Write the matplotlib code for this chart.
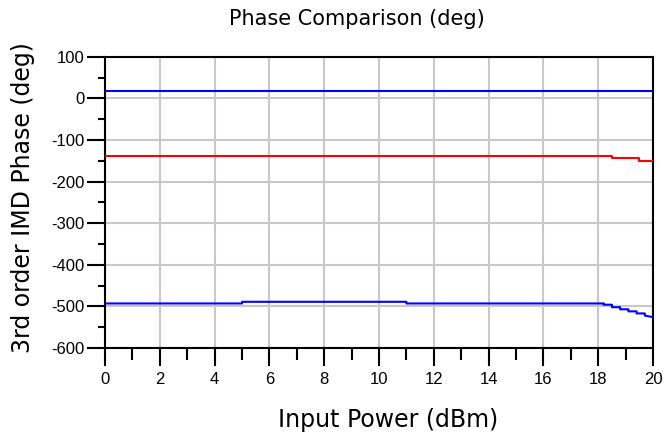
import matplotlib
matplotlib.use("Agg")
import matplotlib.pyplot as plt
from matplotlib.ticker import MultipleLocator

plt.rcParams['font.family'] = ['Liberation Sans', 'DejaVu Sans']
plt.rcParams['axes.unicode_minus'] = False

# Data (step-like traces)
power_top = [0, 20]
phase_top = [17, 17]

power_red = [0, 18.5, 18.5, 19.5, 19.5, 20]
phase_red = [-138, -138, -144, -144, -150, -150]

power_low = [0, 5, 5, 11, 11, 18.2, 18.2, 18.5, 18.5, 18.8, 18.8, 19.1, 19.1,
             19.4, 19.4, 19.7, 19.7, 20]
phase_low = [-493, -493, -489, -489, -493, -493, -496, -496, -502, -502, -507,
             -507, -512, -512, -517, -517, -522, -526]

xticks = list(range(0, 21, 2))
yticks = list(range(-600, 101, 100))

fig = plt.figure(figsize=(6.65, 4.41), dpi=100)
ax = fig.add_axes([0.158, 0.211, 0.824, 0.660])

ax.plot(power_top, phase_top, color='#0000ff', lw=1.5, zorder=3)
ax.plot(power_red, phase_red, color='#ff0000', lw=1.5, zorder=3)
ax.plot(power_low, phase_low, color='#0000ff', lw=1.5, zorder=3)

ax.set_xlim(0, 20)
ax.set_ylim(-600, 100)
ax.set_xticks(xticks)
ax.set_yticks(yticks)
ax.xaxis.set_minor_locator(MultipleLocator(1))
ax.yaxis.set_minor_locator(MultipleLocator(50))
ax.grid(True, which='major', color='#c8c8c8', lw=1.5, zorder=0)
ax.set_axisbelow(True)

ax.tick_params(axis='both', which='major', direction='out', length=13,
               width=1.5, color='black', labelsize=12)
ax.tick_params(axis='x', which='minor', direction='out', length=8.5, width=1.5)
ax.tick_params(axis='y', which='minor', direction='out', length=5, width=1.5)
ax.tick_params(axis='x', pad=4)
ax.tick_params(axis='y', pad=2)
for s in ax.spines.values():
    s.set_color('black')
    s.set_linewidth(1.5)

fig.text(0.537, 0.957, 'Phase Comparison (deg)', fontsize=15,
         family=['DejaVu Sans'], ha='center', va='center')
ax.set_xlabel('Input Power (dBm)', fontsize=17, family=['DejaVu Sans'])
ax.xaxis.set_label_coords(0.516, -0.205)
ax.set_ylabel('3rd order IMD Phase (deg)', fontsize=17, family=['DejaVu Sans'])
ax.yaxis.set_label_coords(-0.128, 0.515)

fig.savefig('out.png', dpi=100)
